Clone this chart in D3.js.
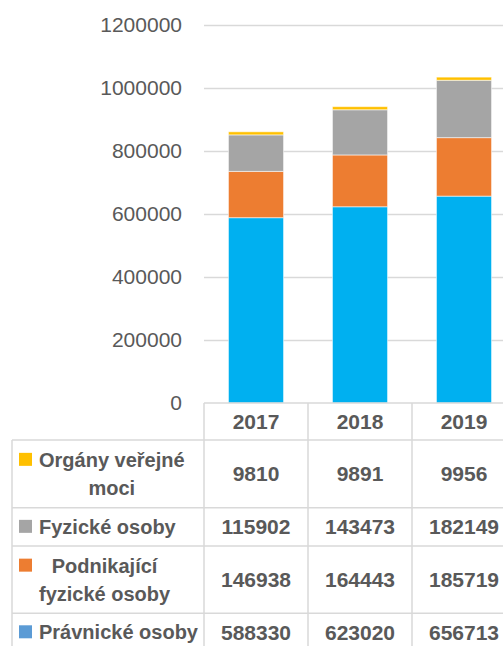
<!DOCTYPE html>
<html>
<head>
<meta charset="utf-8">
<script src="https://cdn.jsdelivr.net/npm/d3@7"></script>
<style>
  body { margin: 0; background: #fff; }
  text { font-family: "Liberation Sans", Arial, sans-serif; fill: #595959; }
</style>
</head>
<body>
<div id="chart"></div>
<script>
// data
var years = ["2017", "2018", "2019"];
var pravnicke = [588330, 623020, 656713];
var podnikajici = [146938, 164443, 185719];
var fyzicke = [115902, 143473, 182149];
var organy = [9810, 9891, 9956];
var yTicks = [0, 200000, 400000, 600000, 800000, 1000000, 1200000];

// series in stack order (bottom first)
var series = [
  { key: "pravnicke", label: ["Právnické osoby"], values: pravnicke, color: "#00B0F0", key2: "#5B9BD5" },
  { key: "podnikajici", label: ["Podnikající", "fyzické osoby"], values: podnikajici, color: "#ED7D31", key2: "#ED7D31" },
  { key: "fyzicke", label: ["Fyzické osoby"], values: fyzicke, color: "#A5A5A5", key2: "#A5A5A5" },
  { key: "organy", label: ["Orgány veřejné", "moci"], values: organy, color: "#FFC000", key2: "#FFC000" }
];

var svgWidth = 503;
var svgHeight = 646;

var plotLeft = 204;
var plotRight = 516;
var plotTop = 25;
var plotBottom = 403;
var tableLeft = 12;
var lineColor = "#D9D9D9";

var svg = d3.select("#chart")
  .append("svg")
  .attr("width", svgWidth)
  .attr("height", svgHeight);

var x = d3.scaleBand()
  .domain(years)
  .range([plotLeft, plotRight])
  .paddingInner(0.47)
  .paddingOuter(0.235);

var step = x.step();
var colStart = function(i) { return plotLeft + i * step; };

var y = d3.scaleLinear()
  .domain([0, 1200000])
  .range([plotBottom, plotTop]);

// y axis with gridlines
var yAxis = svg.append("g")
  .attr("transform", `translate(${plotLeft}, 0)`)
  .call(d3.axisLeft(y)
    .tickValues(yTicks)
    .tickFormat(d3.format("d"))
    .tickSize(-(svgWidth - plotLeft))
    .tickPadding(22));

yAxis.select(".domain").remove();
yAxis.selectAll(".tick line")
  .attr("stroke", lineColor)
  .attr("stroke-width", 1.5)
  .filter(d => d === 0).remove();
yAxis.selectAll(".tick text")
  .attr("font-size", "21px")
  .attr("fill", "#595959")
  .style("font-family", "'Liberation Sans', Arial, sans-serif");

// stacked bars
var rows = years.map(function(yr, i) {
  var r = { year: yr };
  series.forEach(s => { r[s.key] = s.values[i]; });
  return r;
});

var stack = d3.stack().keys(series.map(s => s.key));
var stacked = stack(rows);

svg.append("g")
  .selectAll("g")
  .data(stacked)
  .enter()
  .append("g")
  .attr("fill", (d, i) => series[i].color)
  .selectAll("rect")
  .data(d => d)
  .enter()
  .append("rect")
  .attr("x", d => x(d.data.year))
  .attr("width", x.bandwidth())
  .attr("y", d => y(d[1]))
  .attr("height", d => y(d[0]) - y(d[1]))
  .attr("stroke", "rgba(255,255,255,0.55)")
  .attr("stroke-width", 1);

// data table
var headerBottom = 440;
var rowHeights = [67.7, 38.3, 67.3, 38];
var tableRows = series.slice().reverse();

var table = svg.append("g");

var rowTops = [headerBottom];
rowHeights.forEach((h, i) => rowTops.push(rowTops[i] + h));

// horizontal lines
table.append("line")
  .attr("x1", plotLeft).attr("x2", svgWidth)
  .attr("y1", plotBottom).attr("y2", plotBottom);
rowTops.forEach(function(t) {
  table.append("line")
    .attr("x1", tableLeft).attr("x2", svgWidth)
    .attr("y1", t).attr("y2", t);
});
// vertical lines
table.append("line")
  .attr("x1", tableLeft).attr("x2", tableLeft)
  .attr("y1", headerBottom).attr("y2", svgHeight + 10);
years.forEach(function(yr, i) {
  table.append("line")
    .attr("x1", colStart(i)).attr("x2", colStart(i))
    .attr("y1", plotBottom).attr("y2", svgHeight + 10);
});
table.append("line")
  .attr("x1", colStart(3)).attr("x2", colStart(3))
  .attr("y1", plotBottom).attr("y2", svgHeight + 10);
table.selectAll("line")
  .attr("stroke", lineColor)
  .attr("stroke-width", 1.5);

// year header
table.selectAll(".yearText")
  .data(years)
  .enter()
  .append("text")
  .attr("x", d => colStart(years.indexOf(d)) + step / 2)
  .attr("y", 429)
  .attr("text-anchor", "middle")
  .attr("font-size", "21px")
  .attr("font-weight", "bold")
  .text(d => d);

// rows
tableRows.forEach(function(s, r) {
  var top = rowTops[r];
  var h = rowHeights[r];
  var mid = top + h / 2;
  var nLines = s.label.length;
  var firstBase = mid + 7 - (nLines - 1) * 14;

  var labels = s.label.map(function(line, k) {
    return table.append("text")
      .attr("y", firstBase + k * 28)
      .attr("text-anchor", "middle")
      .attr("font-size", "20px")
      .attr("font-weight", "bold")
      .text(line);
  });
  var blockW = d3.max(labels, t => t.node().getComputedTextLength());
  labels.forEach(t => t.attr("x", 39 + blockW / 2));

  table.append("rect")
    .attr("x", 19)
    .attr("y", firstBase - 14)
    .attr("width", 13)
    .attr("height", 13)
    .attr("fill", s.key2);

  s.values.forEach(function(v, i) {
    table.append("text")
      .attr("x", colStart(i) + step / 2)
      .attr("y", mid + 7.5)
      .attr("text-anchor", "middle")
      .attr("font-size", "21px")
      .attr("font-weight", "bold")
      .text(v);
  });
});
</script>
</body>
</html>
